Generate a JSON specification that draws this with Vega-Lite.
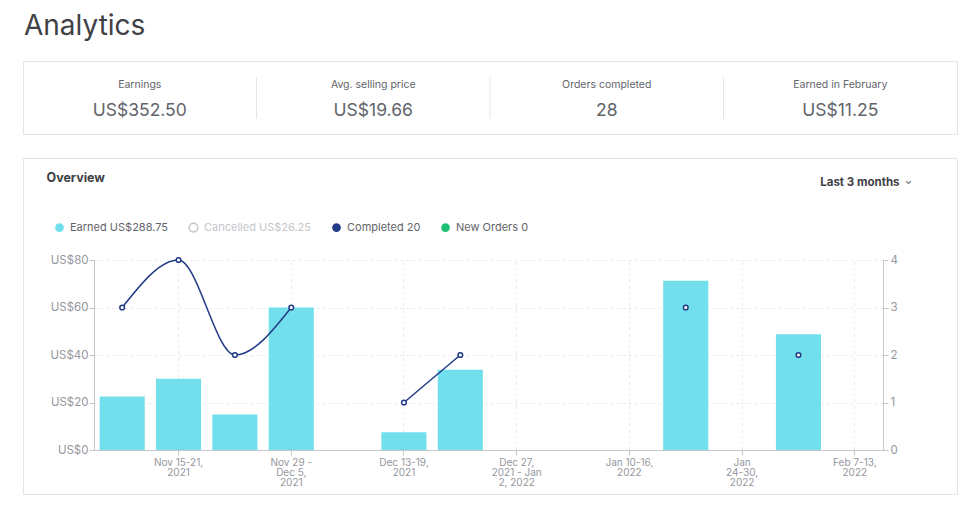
{
  "$schema": "https://vega.github.io/schema/vega-lite/v6.json",
  "background": "white",
  "padding": {"left": 22, "top": 12, "right": 0, "bottom": 0},
  "config": {
    "font": "Inter",
    "view": {"stroke": null}
  },
  "spacing": 22,
  "resolve": {"legend": {"color": "independent"}},
  "vconcat": [
    {
      "title": {"text": "Analytics", "fontSize": 28, "fontWeight": 400, "color": "#404145", "anchor": "start", "offset": 20, "dx": 1},
      "width": 934,
      "height": 73,
      "view": {"stroke": "#e4e5e7", "strokeWidth": 1},
      "data": {"values": [
        {"metric": "Earnings", "value": "US$352.50"},
        {"metric": "Avg. selling price", "value": "US$19.66"},
        {"metric": "Orders completed", "value": "28"},
        {"metric": "Earned in February", "value": "US$11.25"}
      ]},
      "layer": [
        {
          "mark": {"type": "text", "fontSize": 10.5, "color": "#62646a", "baseline": "middle"},
          "encoding": {
            "x": {"field": "metric", "type": "nominal", "scale": {"domain": ["Earnings", "Avg. selling price", "Orders completed", "Earned in February"], "paddingInner": 0, "paddingOuter": 0}, "axis": null},
            "y": {"datum": 0.67, "type": "quantitative", "scale": {"domain": [0, 1]}, "axis": null},
            "text": {"field": "metric"}
          }
        },
        {
          "mark": {"type": "text", "fontSize": 17.5, "color": "#62646a", "baseline": "middle"},
          "encoding": {
            "x": {"field": "metric", "type": "nominal"},
            "y": {"datum": 0.32, "type": "quantitative"},
            "text": {"field": "value"}
          }
        },
        {
          "transform": [{"filter": "datum.metric != 'Earnings'"}],
          "mark": {"type": "rule", "color": "#e4e5e7", "strokeWidth": 1},
          "encoding": {
            "x": {"field": "metric", "type": "nominal", "bandPosition": 0},
            "y": {"datum": 0.78, "type": "quantitative"},
            "y2": {"datum": 0.21}
          }
        }
      ]
    },
    {
      "width": 934,
      "height": 336,
      "view": {"stroke": "#e4e5e7", "strokeWidth": 1},
      "data": {"values": [
        {"week": "Nov 8-14, 2021", "earned": 22.5, "completed": 3},
        {"week": "Nov 15-21, 2021", "earned": 30, "completed": 4},
        {"week": "Nov 22-28, 2021", "earned": 15, "completed": 2},
        {"week": "Nov 29 - Dec 5, 2021", "earned": 60, "completed": 3},
        {"week": "Dec 6-12, 2021", "earned": 0, "completed": null},
        {"week": "Dec 13-19, 2021", "earned": 7.5, "completed": 1},
        {"week": "Dec 20-26, 2021", "earned": 33.75, "completed": 2},
        {"week": "Dec 27, 2021 - Jan 2, 2022", "earned": 0, "completed": null},
        {"week": "Jan 3-9, 2022", "earned": 0, "completed": null},
        {"week": "Jan 10-16, 2022", "earned": 0, "completed": null},
        {"week": "Jan 17-23, 2022", "earned": 71.25, "completed": 3},
        {"week": "Jan 24-30, 2022", "earned": 0, "completed": null},
        {"week": "Jan 31 - Feb 6, 2022", "earned": 48.75, "completed": 2},
        {"week": "Feb 7-13, 2022", "earned": 0, "completed": null}
      ]},
      "layer": [
        {
          "mark": {"type": "bar"},
          "encoding": {
            "x": {
              "field": "week",
              "type": "nominal",
              "scale": {
                "domain": ["Nov 8-14, 2021", "Nov 15-21, 2021", "Nov 22-28, 2021", "Nov 29 - Dec 5, 2021", "Dec 6-12, 2021", "Dec 13-19, 2021", "Dec 20-26, 2021", "Dec 27, 2021 - Jan 2, 2022", "Jan 3-9, 2022", "Jan 10-16, 2022", "Jan 17-23, 2022", "Jan 24-30, 2022", "Jan 31 - Feb 6, 2022", "Feb 7-13, 2022"],
                "range": [71, 860],
                "paddingInner": 0.2,
                "paddingOuter": 0.1
              },
              "axis": {
                "orient": "bottom",
                "title": "⌄",
                "titleFont": "DejaVu Sans",
                "titleFontSize": 13,
                "titleFontWeight": "normal",
                "titleColor": "#74767e",
                "titleAngle": 0,
                "titleAlign": "center",
                "titleBaseline": "middle",
                "titleX": 885,
                "titleY": -271,
                "offset": -44,
                "values": ["Nov 15-21, 2021", "Nov 29 - Dec 5, 2021", "Dec 13-19, 2021", "Dec 27, 2021 - Jan 2, 2022", "Jan 10-16, 2022", "Jan 24-30, 2022", "Feb 7-13, 2022"],
                "labelExpr": "datum.value == 'Nov 29 - Dec 5, 2021' ? ['Nov 29 -', 'Dec 5,', '2021'] : datum.value == 'Dec 27, 2021 - Jan 2, 2022' ? ['Dec 27,', '2021 - Jan', '2, 2022'] : datum.value == 'Jan 24-30, 2022' ? ['Jan', '24-30,', '2022'] : [split(datum.value, ', ')[0] + ',', split(datum.value, ', ')[1]]",
                "labelAngle": 0,
                "labelFontSize": 10,
                "labelLineHeight": 10,
                "labelColor": "#95979d",
                "labelPadding": 2,
                "grid": false,
                "domainColor": "#c5c6c9",
                "tickColor": "#c5c6c9",
                "tickSize": 5
              }
            },
            "y": {
              "field": "earned",
              "type": "quantitative",
              "scale": {"domain": [0, 80], "range": [292, 102]},
              "axis": {
                "title": "Overview",
                "titleAngle": 0,
                "titleAlign": "left",
                "titleBaseline": "middle",
                "titleX": -48,
                "titleY": 19,
                "titleFontSize": 12.5,
                "titleFontWeight": "bold",
                "titleColor": "#404145",
                "offset": -71,
                "values": [0, 20, 40, 60, 80],
                "labelExpr": "'US$' + datum.value",
                "labelFontSize": 11.5,
                "labelColor": "#95979d",
                "labelPadding": 1,
                "grid": true,
                "gridDash": [3, 3],
                "gridColor": "#e9eaec",
                "domainColor": "#c5c6c9",
                "tickColor": "#c5c6c9",
                "tickSize": 5
              }
            },
            "color": {
              "datum": "Earned",
              "type": "nominal",
              "scale": {
                "domain": ["Earned", "Cancelled", "Completed", "New Orders"],
                "range": ["#72dfec", "#ffffff", "#233b86", "#1dbf73"]
              },
              "legend": {
                "orient": "none",
                "legendX": 31,
                "legendY": 64,
                "direction": "horizontal",
                "title": null,
                "padding": 0,
                "symbolType": "circle",
                "symbolSize": 75,
                "symbolStrokeWidth": 1.5,
                "symbolStrokeColor": {"expr": "datum.value == 'Cancelled' ? '#c5c6c9' : 'transparent'"},
                "labelFontSize": 11,
                "labelColor": {"expr": "datum.value == 'Cancelled' ? '#c5c6c9' : '#62646a'"},
                "labelExpr": "datum.value == 'Earned' ? 'Earned  US$288.75' : datum.value == 'Cancelled' ? 'Cancelled  US$26.25' : datum.value == 'Completed' ? 'Completed  20' : 'New Orders  0'",
                "labelOffset": 5,
                "columnPadding": 14
              }
            }
          }
        },
        {
          "encoding": {
            "x": {
              "field": "week",
              "type": "nominal",
              "axis": {
                "orient": "top",
                "title": null,
                "values": ["Nov 15-21, 2021", "Nov 29 - Dec 5, 2021", "Dec 13-19, 2021", "Dec 27, 2021 - Jan 2, 2022", "Jan 10-16, 2022", "Jan 24-30, 2022", "Feb 7-13, 2022"],
                "labels": false,
                "ticks": false,
                "domain": false,
                "grid": true,
                "gridDash": [3, 3],
                "gridColor": "#e9eaec"
              }
            }
          },
          "layer": [
            {
              "mark": {"type": "line", "interpolate": "monotone", "color": "#233b86", "strokeWidth": 1.5, "invalid": "break-paths-show-domains"},
              "encoding": {
                "y": {
                  "field": "completed",
                  "type": "quantitative",
                  "scale": {"domain": [0, 4], "range": [292, 102]},
                  "axis": {
                    "orient": "right",
                    "title": "Last 3 months",
                    "titleAngle": 0,
                    "titleAlign": "right",
                    "titleBaseline": "middle",
                    "titleX": 16,
                    "titleY": 24,
                    "titleFontSize": 11.5,
                    "titleFontWeight": "bold",
                    "titleColor": "#404145",
                    "offset": -74,
                    "values": [0, 1, 2, 3, 4],
                    "format": "d",
                    "labelFontSize": 11.5,
                    "labelColor": "#95979d",
                    "labelPadding": 2,
                    "grid": false,
                    "domainColor": "#c5c6c9",
                    "tickColor": "#c5c6c9",
                    "tickSize": 5
                  }
                }
              }
            },
            {
              "mark": {"type": "point", "filled": true, "fill": "#ffffff", "stroke": "#233b86", "strokeWidth": 1.5, "size": 22, "opacity": 1},
              "encoding": {
                "y": {"field": "completed", "type": "quantitative"}
              }
            }
          ]
        }
      ],
      "resolve": {"scale": {"y": "independent"}, "axis": {"y": "independent", "x": "independent"}}
    }
  ]
}
